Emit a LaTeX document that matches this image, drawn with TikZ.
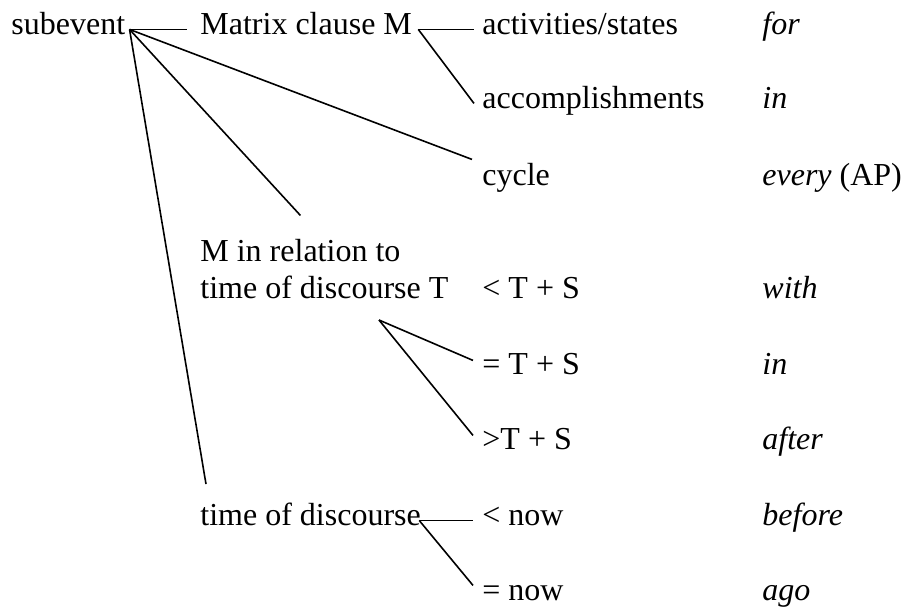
\documentclass[tikz,border=0pt]{standalone}
\usepackage{fontspec}
\setmainfont{Liberation Serif}
\begin{document}
\begin{tikzpicture}[x=0.5pt, y=-0.5pt,
    word/.style={inner sep=0pt, anchor=base west, font=\fontsize{16pt}{19pt}\selectfont},
    branch/.style={line width=0.8pt}]
    % Fix the frame to the size of the page
    \useasboundingbox (0,0) rectangle (906,607);

    % The root of the tree
    \node[word] (subevent) at (11,34) {subevent};

    % Second level: the kinds of subevent
    \node[word] (matrix) at (200,34) {Matrix clause M};
    \node[word] (rel)    at (200,261) {M in relation to};
    \node[word] (tdT)    at (200,298) {time of discourse T};
    \node[word] (td)     at (200,525) {time of discourse};

    % Third level: the cases
    \node[word] (act)   at (482,34)  {activities/states};
    \node[word] (acc)   at (482,108) {accomplishments};
    \node[word] (cycle) at (482,185) {cycle};
    \node[word] (ltTS)  at (482,298) {< T + S};
    \node[word] (eqTS)  at (482,374) {= T + S};
    \node[word] (gtTS)  at (482,449) {>T + S};
    \node[word] (ltnow) at (482,525) {< now};
    \node[word] (eqnow) at (482,600) {= now};

    % Last column: the markers
    \node[word] (for)    at (762,34)  {\textit{for}};
    \node[word] (in)     at (762,108) {\textit{in}};
    \node[word] (every)  at (762,185) {\textit{every} (AP)};
    \node[word] (with)   at (762,298) {\textit{with}};
    \node[word] (inTS)   at (762,374) {\textit{in}};
    \node[word] (after)  at (762,449) {\textit{after}};
    \node[word] (before) at (762,525) {\textit{before}};
    \node[word] (ago)    at (762,600) {\textit{ago}};

    % Branches from subevent
    \draw[branch] ([shift={(4,0)}]subevent.mid east) -- ([shift={(-13,0)}]matrix.mid west);
    \draw[branch] ([shift={(4,0)}]subevent.mid east) -- ([shift={(-10,-21)}]cycle.mid west);
    \draw[branch] ([shift={(4,0)}]subevent.mid east) -- ([shift={(0,-23)}]rel.north);
    \draw[branch] ([shift={(4,0)}]subevent.mid east) -- ([shift={(6,-18)}]td.north west);

    % Branches from Matrix clause M
    \draw[branch] ([shift={(6,0)}]matrix.mid east) -- ([shift={(-8,0)}]act.mid west);
    \draw[branch] ([shift={(6,0)}]matrix.mid east) -- ([shift={(-8,0)}]acc.mid west);

    % Branches from time of discourse T
    \draw[branch] ([shift={(179,22)}]tdT.base west) -- ([shift={(-9,-9)}]eqTS.mid west);
    \draw[branch] ([shift={(179,22)}]tdT.base west) -- ([shift={(-9,-9)}]gtTS.mid west);

    % Branches from time of discourse
    \draw[branch] ([shift={(-2,0)}]td.mid east) -- ([shift={(-9,0)}]ltnow.mid west);
    \draw[branch] ([shift={(-2,0)}]td.mid east) -- ([shift={(-9,-10)}]eqnow.mid west);
\end{tikzpicture}
\end{document}
